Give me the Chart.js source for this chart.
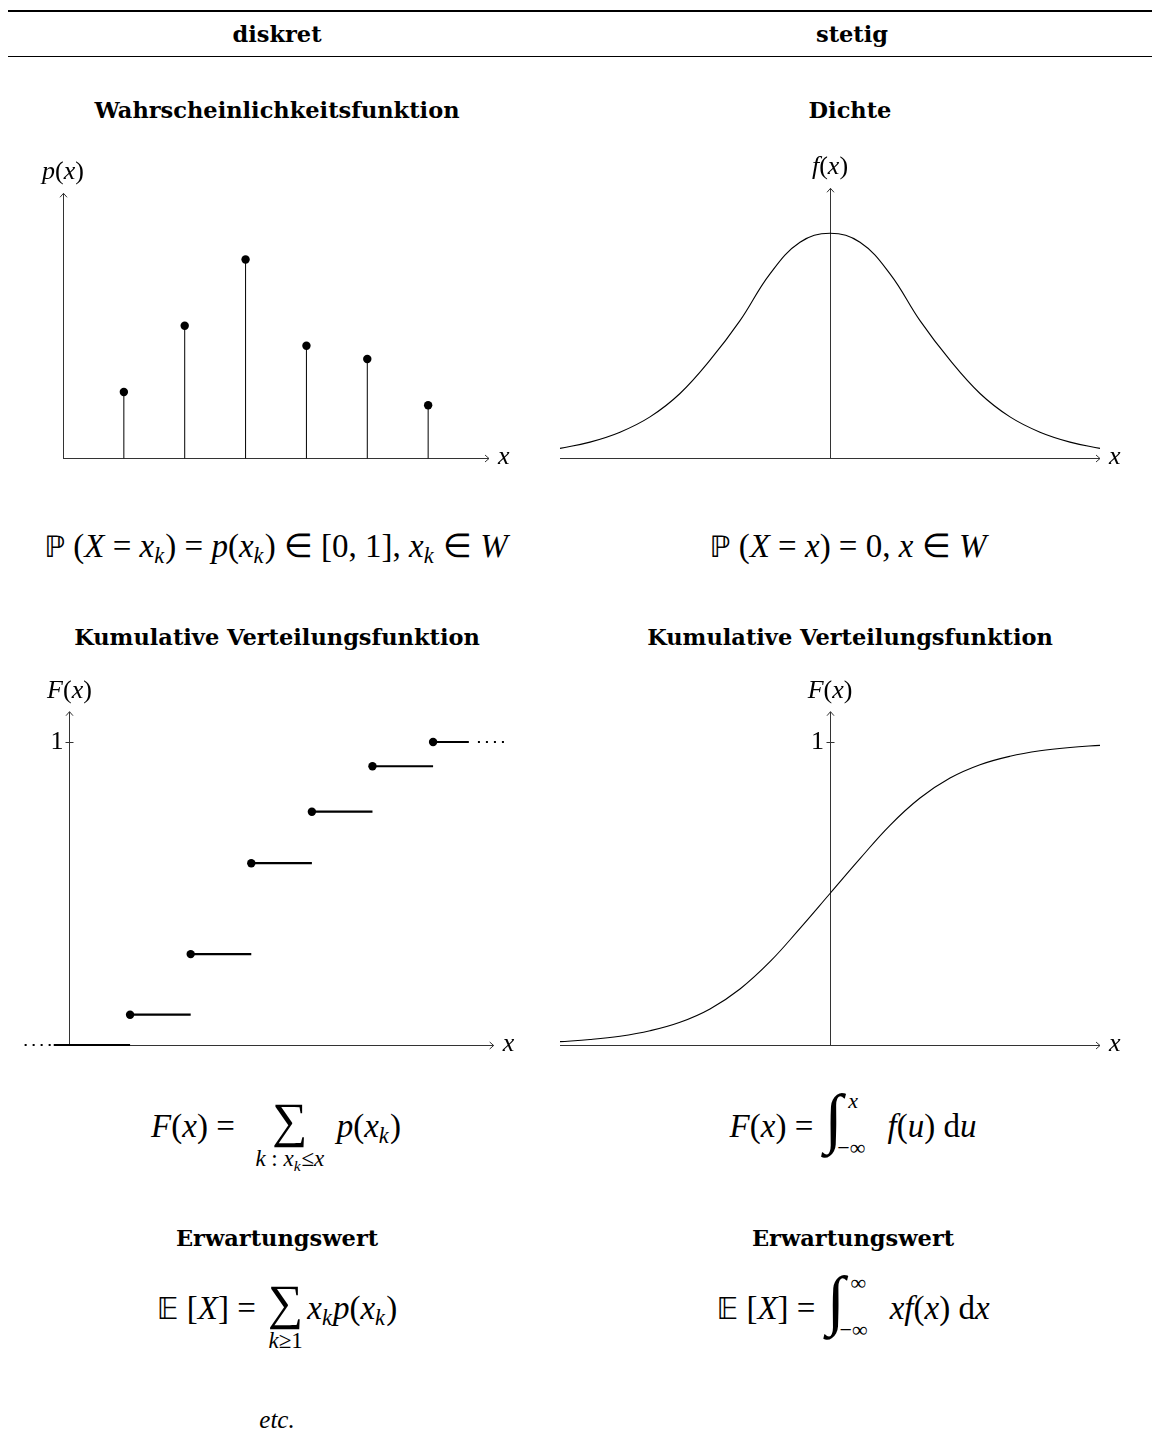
<!DOCTYPE html>
<html>
<head>
<meta charset="utf-8">
<script src="https://cdn.jsdelivr.net/npm/chart.js@4.4.1/dist/chart.umd.min.js"></script>
<style>
body { margin: 0; background: #fff; width: 1152px; height: 1434px; position: relative; overflow: hidden; color: #000; font-family: "DejaVu Serif", serif; }
.rule { position: absolute; left: 8px; width: 1144px; background: #000; }
.t { position: absolute; transform: translate(-50%, -50%); white-space: nowrap; }
.h { font-weight: bold; font-size: 22.5px; }
.m { font-family: "Liberation Serif", serif; font-size: 33px; line-height: 1.2; }
.m sub { font-size: 0.68em; vertical-align: -0.28em; line-height: 0; margin-right: 0.05em; }
.bb { font-family: "DejaVu Sans", sans-serif; font-size: 0.9em; }
.sum { position: relative; display: inline-block; text-align: center; margin: 0 0.12em; }
.sum .op { font-size: 1.5em; line-height: 0; }
.lim { position: absolute; left: 50%; top: 1.75em; transform: translateX(-50%); font-size: 23px; line-height: 1; white-space: nowrap; }
.int { position: relative; display: inline-block; width: 2em; height: 1em; vertical-align: -0.22em; }
.int .ig { position: absolute; left: 0.05em; top: -0.4em; font-size: 2em; line-height: 1; }
.int .up { position: absolute; left: 1.22em; top: -0.95em; font-size: 22px; line-height: 1; }
.int .lo { position: absolute; left: 0.72em; top: 1.17em; font-size: 22px; line-height: 1; white-space: nowrap; }
canvas { position: absolute; }
</style>
</head>
<body>
<div class="rule" style="top:10px;height:2px"></div>
<div class="rule" style="top:56px;height:1px"></div>

<div class="t h" style="left:277px;top:34px">diskret</div>
<div class="t h" style="left:852px;top:34px">stetig</div>

<div class="t h" style="left:277px;top:110px">Wahrscheinlichkeitsfunktion</div>
<div class="t h" style="left:850px;top:110px">Dichte</div>

<canvas id="pmfChart" width="540" height="330" style="left:0;top:150px"></canvas>
<canvas id="densityChart" width="607" height="330" style="left:545px;top:150px"></canvas>

<div class="t m" style="left:276px;top:547px"><span class="bb">ℙ</span> (<i>X</i> = <i>x<sub>k</sub></i>) = <i>p</i>(<i>x<sub>k</sub></i>) ∈ [0, 1], <i>x<sub>k</sub></i> ∈ <i>W</i></div>
<div class="t m" style="left:848px;top:547px"><span class="bb">ℙ</span> (<i>X</i> = <i>x</i>) = 0, <i>x</i> ∈ <i>W</i></div>

<div class="t h" style="left:277px;top:637px">Kumulative Verteilungsfunktion</div>
<div class="t h" style="left:850px;top:637px">Kumulative Verteilungsfunktion</div>

<canvas id="stepChart" width="540" height="400" style="left:0;top:670px"></canvas>
<canvas id="cdfChart" width="607" height="400" style="left:545px;top:670px"></canvas>

<div class="t m" style="left:276px;top:1127px"><i>F</i>(<i>x</i>) = <span class="sum" style="width:2.6em"><span class="op">∑</span><span class="lim"><i>k</i> : <i>x<sub>k</sub></i>≤<i>x</i></span></span><i>p</i>(<i>x<sub>k</sub></i>)</div>
<div class="t m" style="left:853px;top:1127px"><i>F</i>(<i>x</i>) = <span class="int"><span class="ig">∫</span><span class="up"><i>x</i></span><span class="lo">−∞</span></span><i>f</i>(<i>u</i>) d<i>u</i></div>

<div class="t h" style="left:277px;top:1238px">Erwartungswert</div>
<div class="t h" style="left:853px;top:1238px">Erwartungswert</div>

<div class="t m" style="left:277px;top:1309px"><span class="bb">𝔼</span> [<i>X</i>] = <span class="sum"><span class="op">∑</span><span class="lim"><i>k</i>≥1</span></span><i>x<sub>k</sub>p</i>(<i>x<sub>k</sub></i>)</div>
<div class="t m" style="left:853px;top:1309px"><span class="bb">𝔼</span> [<i>X</i>] = <span class="int"><span class="ig">∫</span><span class="up">∞</span><span class="lo">−∞</span></span><i>xf</i>(<i>x</i>) d<i>x</i></div>

<div class="t m" style="left:277px;top:1420px;font-size:25px"><i>etc.</i></div>

<script>
// diskret: Trägerpunkte und Wahrscheinlichkeiten
const stemX = [1, 2, 3, 4, 5, 6]
const pmf = [0.1, 0.2, 0.3, 0.17, 0.15, 0.08]
const cdfSteps = [0.1, 0.3, 0.6, 0.77, 0.92, 1.0]

const gridX = [-4.5, -4, -3.5, -3, -2.5, -2, -1.5, -1, -0.5, 0, 0.5, 1, 1.5, 2, 2.5, 3, 3.5, 4, 4.5]
const density = [0.011, 0.018, 0.029, 0.046, 0.072, 0.109, 0.153, 0.205, 0.24, 0.25, 0.24, 0.205, 0.153, 0.109, 0.072, 0.046, 0.029, 0.018, 0.011]
const cdf = [0.011, 0.018, 0.029, 0.047, 0.075, 0.119, 0.185, 0.275, 0.385, 0.5, 0.615, 0.725, 0.815, 0.881, 0.925, 0.953, 0.971, 0.982, 0.989]

const INK = '#000'
const AXIS = '#333'
const LABEL_SIZE = 26

function pairs(xs, ys) {
	return xs.map((x, i) => ({ x, y: ys[i] }))
}

// senkrechte Stäbe von 0 bis p(x_k), getrennt durch Lücken
function stems(xs, ys) {
	const pts = []
	xs.forEach((x, i) => {
		pts.push({ x, y: 0 }, { x, y: ys[i] }, { x, y: null })
	})
	return pts
}

// Treppenstufen [x_k, x_{k+1}) auf Höhe F(x_k)
function steps(xs, ys, lastEnd) {
	const pts = []
	xs.forEach((x, i) => {
		const end = i < xs.length - 1 ? xs[i + 1] : lastEnd
		pts.push({ x, y: ys[i] }, { x: end, y: ys[i] }, { x: end, y: null })
	})
	return pts
}

function mathText(ctx, parts, x, y, size, align) {
	const fonts = parts.map(p => (p[1] ? 'italic ' : '') + size + 'px "Liberation Serif"')
	let w = 0
	parts.forEach((p, i) => {
		ctx.font = fonts[i]
		w += ctx.measureText(p[0]).width
	})
	let cx = align === 'center' ? x - w / 2 : align === 'right' ? x - w : x
	ctx.textBaseline = 'middle'
	ctx.textAlign = 'left'
	ctx.fillStyle = INK
	parts.forEach((p, i) => {
		ctx.font = fonts[i]
		ctx.fillText(p[0], cx, y)
		cx += ctx.measureText(p[0]).width
	})
}

// Achsen mit Pfeilspitzen, Beschriftung und optionaler Marke bei 1
const axesPlugin = {
	id: 'axes',
	beforeDatasetsDraw(chart, args, opts) {
		const { ctx, scales } = chart
		const x0 = Math.round(scales.x.getPixelForValue(0)) + 0.5
		const y0 = Math.round(scales.y.getPixelForValue(0)) + 0.5
		const xs = scales.x.getPixelForValue(opts.xFrom)
		const xe = scales.x.getPixelForValue(opts.xTo)
		const ye = scales.y.getPixelForValue(opts.yTo)
		ctx.save()
		ctx.strokeStyle = AXIS
		ctx.lineWidth = 1
		ctx.beginPath()
		ctx.moveTo(xs, y0)
		ctx.lineTo(xe, y0)
		ctx.moveTo(x0, y0)
		ctx.lineTo(x0, ye)
		// Pfeilspitzen
		ctx.moveTo(xe - 4, y0 - 3.5)
		ctx.lineTo(xe, y0)
		ctx.lineTo(xe - 4, y0 + 3.5)
		ctx.moveTo(x0 - 3.5, ye + 4)
		ctx.lineTo(x0, ye)
		ctx.lineTo(x0 + 3.5, ye + 4)
		if (opts.tickOne) {
			const y1 = Math.round(scales.y.getPixelForValue(1)) + 0.5
			ctx.moveTo(x0 - 4, y1)
			ctx.lineTo(x0 + 4, y1)
		}
		ctx.stroke()
		ctx.restore()
	},
	afterDatasetsDraw(chart, args, opts) {
		const { ctx, scales } = chart
		const x0 = scales.x.getPixelForValue(0)
		const y0 = scales.y.getPixelForValue(0)
		const xe = scales.x.getPixelForValue(opts.xTo)
		const ye = scales.y.getPixelForValue(opts.yTo)
		ctx.save()
		mathText(ctx, opts.yLabel, x0, ye - 21, LABEL_SIZE, 'center')
		mathText(ctx, [['x', true]], xe + 9, y0 - 1, LABEL_SIZE, 'left')
		if (opts.tickOne) {
			mathText(ctx, [['1', false]], x0 - 6, scales.y.getPixelForValue(1), LABEL_SIZE, 'right')
		}
		ctx.restore()
	},
}

function lineSet(data, width, extra) {
	return Object.assign({
		data,
		showLine: true,
		borderColor: INK,
		borderWidth: width,
		pointRadius: 0,
		clip: false,
	}, extra || {})
}

function dotSet(data) {
	return {
		data,
		showLine: false,
		pointRadius: 4.2,
		pointBackgroundColor: INK,
		pointBorderColor: INK,
		pointBorderWidth: 0,
		clip: false,
	}
}

function makeChart(id, datasets, range, pad, axes) {
	return new Chart(document.getElementById(id), {
		type: 'scatter',
		data: { datasets },
		options: {
			responsive: false,
			animation: false,
			events: [],
			layout: { padding: pad },
			scales: {
				x: { type: 'linear', display: false, min: range[0], max: range[1] },
				y: { type: 'linear', display: false, min: range[2], max: range[3] },
			},
			plugins: { legend: { display: false }, tooltip: { enabled: false }, axes },
		},
		plugins: [axesPlugin],
	})
}

// Wahrscheinlichkeitsfunktion
makeChart('pmfChart',
	[lineSet(stems(stemX, pmf), 1), dotSet(pairs(stemX, pmf))],
	[0, 7, 0, 0.4],
	{ left: 63, right: 51, top: 43.3, bottom: 21.7 },
	{ xFrom: 0, xTo: 7, yTo: 0.4, yLabel: [['p', 1], ['(', 0], ['x', 1], [')', 0]] })

// Dichte
makeChart('densityChart',
	[lineSet(pairs(gridX, density), 1.1, { tension: 0.4 })],
	[-4.5, 4.5, 0, 0.3],
	{ left: 15, right: 52, top: 38.3, bottom: 21.7 },
	{ xFrom: -4.5, xTo: 4.5, yTo: 0.3, yLabel: [['f', 1], ['(', 0], ['x', 1], [')', 0]] })

// Treppenfunktion der diskreten Verteilung
makeChart('stepChart',
	[
		lineSet([{ x: -0.26, y: 0 }, { x: stemX[0], y: 0 }], 2.2),
		lineSet([{ x: -0.74, y: 0 }, { x: -0.3, y: 0 }], 2, { borderDash: [2, 6] }),
		lineSet(steps(stemX, cdfSteps, 6.59), 2.2),
		lineSet([{ x: 6.74, y: 1 }, { x: 7.2, y: 1 }], 2, { borderDash: [2, 6] }),
		dotSet(pairs(stemX, cdfSteps)),
	],
	[-0.8, 7.2, 0, 1.1],
	{ left: 21, right: 34.2, top: 41.7, bottom: 25 },
	{ xFrom: 0, xTo: 7, yTo: 1.1, tickOne: true, yLabel: [['F', 1], ['(', 0], ['x', 1], [')', 0]] })

// stetige Verteilungsfunktion
makeChart('cdfChart',
	[lineSet(pairs(gridX, cdf), 1.1, { tension: 0.4 })],
	[-4.5, 4.5, 0, 1.1],
	{ left: 15, right: 52, top: 41.7, bottom: 25 },
	{ xFrom: -4.5, xTo: 4.5, yTo: 1.1, tickOne: true, yLabel: [['F', 1], ['(', 0], ['x', 1], [')', 0]] })
</script>
</body>
</html>
